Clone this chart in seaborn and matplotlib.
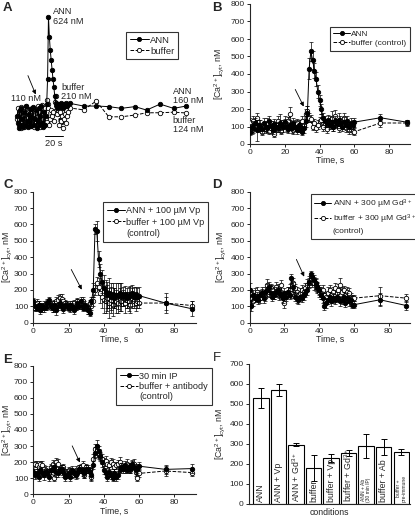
import matplotlib
matplotlib.use("Agg")
import matplotlib.pyplot as plt
from matplotlib.lines import Line2D
import seaborn as sns

# ---- data ----
T = list(range(0, 61)) + [75, 90]

B_ANN = [70, 100, 90, 120, 80, 110, 95, 85, 120, 100,
         90, 130, 105, 80, 115, 100, 90, 120, 110, 95,
         125, 100, 85, 110, 90, 120, 100, 80, 110, 95,
         70, 90, 130, 180, 430, 530, 480, 420, 370, 300,
         250, 200, 150, 130, 120, 135, 110, 125, 100, 130,
         115, 140, 120, 100, 125, 110, 130, 100, 120, 110,
         125, 150, 125]
B_ANN_ERR = [20, 30, 25, 30, 60, 25, 20, 20, 30, 25,
             20, 30, 25, 20, 30, 25, 20, 50, 30, 25,
             35, 25, 20, 30, 25, 30, 25, 20, 30, 25,
             20, 25, 30, 40, 60, 55, 50, 45, 40, 35,
             30, 30, 25, 30, 25, 30, 25, 30, 25, 30,
             25, 35, 30, 25, 30, 25, 30, 25, 30, 25,
             25, 20, 15]
B_BUF = [125, 80, 130, 100, 150, 90, 110, 70, 100, 85,
         120, 75, 90, 110, 60, 95, 130, 100, 75, 110,
         120, 90, 130, 170, 100, 80, 110, 120, 90, 100,
         130, 110, 170, 190, 150, 145, 100, 120, 90, 110,
         130, 140, 100, 120, 85, 110, 130, 150, 100, 160,
         120, 90, 130, 110, 150, 90, 120, 80, 100, 75,
         70, 120, 120]
B_BUF_ERR = [25, 20, 30, 20, 30, 20, 25, 20, 25, 20,
             30, 20, 25, 20, 20, 25, 30, 20, 20, 25,
             25, 20, 25, 40, 20, 20, 25, 25, 20, 25,
             30, 25, 30, 30, 25, 20, 20, 25, 20, 25,
             25, 30, 25, 25, 20, 25, 30, 40, 25, 35,
             25, 20, 30, 25, 30, 20, 25, 20, 25, 20,
             20, 20, 15]

C_ANN = [130, 100, 90, 110, 80, 100, 90, 95, 120, 140,
         100, 90, 110, 80, 100, 120, 95, 85, 110, 100,
         90, 110, 100, 80, 95, 120, 105, 130, 90, 110,
         100, 80, 60, 130, 200, 570, 560, 390, 300, 250,
         210, 190, 170, 180, 160, 175, 150, 170, 165, 180,
         170, 160, 175, 150, 170, 165, 180, 160, 175, 160,
         165, 120, 85]
C_ANN_ERR = [20, 25, 20, 20, 25, 20, 25, 20, 25, 20,
             20, 25, 20, 30, 20, 25, 20, 25, 20, 25,
             20, 25, 20, 25, 20, 25, 20, 25, 20, 25,
             20, 25, 20, 25, 40, 30, 60, 50, 60, 70,
             80, 70, 80, 90, 80, 70, 60, 70, 80, 60,
             70, 60, 50, 60, 50, 60, 50, 60, 40, 50,
             50, 60, 45]
C_BUF = [100, 90, 120, 110, 100, 90, 110, 100, 120, 105,
         110, 90, 120, 130, 140, 150, 145, 130, 120, 110,
         100, 90, 110, 120, 100, 130, 110, 120, 130, 100,
         90, 80, 120, 100, 130, 200, 240, 220, 180, 160,
         140, 130, 150, 120, 140, 110, 150, 130, 120, 140,
         130, 150, 120, 140, 130, 110, 150, 130, 120, 130,
         120, 120, 105]
C_BUF_ERR = [20, 20, 25, 20, 20, 25, 20, 25, 20, 20,
             20, 25, 20, 25, 30, 25, 30, 20, 20, 25,
             20, 25, 20, 20, 25, 20, 25, 20, 25, 20,
             20, 25, 20, 25, 30, 30, 40, 50, 60, 70,
             80, 70, 80, 90, 80, 70, 60, 70, 60, 70,
             60, 50, 60, 50, 60, 50, 60, 40, 50, 40,
             30, 40, 30]

D_ANN = [200, 100, 170, 150, 160, 140, 170, 180, 150, 190,
         200, 220, 180, 160, 170, 190, 200, 180, 170, 150,
         180, 160, 190, 170, 270, 220, 160, 150, 140, 160,
         150, 170, 180, 200, 250, 295, 280, 260, 240, 220,
         200, 170, 150, 100, 120, 140, 160, 130, 150, 140,
         160, 150, 130, 140, 160, 120, 150, 130, 140, 110,
         110, 140, 105]
D_ANN_ERR = [40, 30, 30, 25, 30, 25, 30, 25, 30, 30,
             35, 30, 25, 30, 25, 30, 35, 30, 25, 30,
             30, 25, 30, 25, 30, 30, 25, 30, 25, 30,
             25, 30, 25, 30, 35, 20, 25, 30, 35, 30,
             30, 25, 30, 25, 30, 25, 30, 25, 30, 25,
             30, 25, 30, 25, 30, 25, 30, 25, 25, 20,
             20, 40, 30]
D_BUF = [180, 150, 130, 170, 190, 160, 150, 180, 170, 160,
         230, 190, 210, 200, 180, 220, 190, 170, 230, 150,
         120, 170, 190, 200, 180, 240, 210, 190, 170, 180,
         200, 190, 210, 230, 240, 260, 250, 240, 230, 210,
         190, 180, 200, 170, 160, 180, 200, 170, 190, 210,
         180, 200, 230, 190, 200, 170, 190, 180, 160, 150,
         150, 165, 150]
D_BUF_ERR = [30, 25, 30, 40, 30, 25, 30, 35, 30, 25,
             35, 30, 25, 30, 35, 30, 25, 30, 30, 25,
             30, 25, 30, 35, 30, 30, 25, 30, 25, 30,
             30, 25, 30, 35, 30, 30, 35, 40, 35, 30,
             30, 35, 30, 25, 30, 35, 30, 25, 30, 35,
             30, 35, 40, 30, 25, 30, 25, 30, 20, 20,
             20, 55, 25]

E_ANN = [140, 120, 130, 110, 150, 130, 120, 140, 130, 110,
         150, 160, 170, 140, 130, 150, 160, 140, 110, 120,
         130, 110, 150, 140, 120, 130, 160, 150, 140, 130,
         160, 150, 140, 120, 180, 260, 300, 270, 240, 200,
         150, 130, 110, 140, 120, 100, 130, 110, 120, 150,
         170, 160, 180, 150, 170, 160, 190, 170, 150, 160,
         175, 155, 160]
E_ANN_ERR = [20, 25, 30, 25, 20, 25, 30, 20, 25, 30,
             25, 20, 25, 30, 25, 20, 25, 30, 25, 20,
             25, 30, 25, 20, 25, 30, 25, 20, 25, 30,
             25, 20, 25, 30, 25, 35, 40, 30, 25, 30,
             25, 20, 25, 30, 25, 20, 25, 30, 25, 20,
             25, 30, 25, 20, 25, 30, 25, 20, 25, 30,
             25, 30, 30]
E_BUF = [140, 190, 180, 170, 190, 180, 160, 150, 140, 130,
         170, 190, 100, 200, 190, 160, 150, 170, 140, 130,
         150, 140, 120, 130, 150, 140, 160, 170, 180, 120,
         170, 160, 150, 110, 220, 280, 270, 250, 230, 220,
         200, 210, 190, 180, 200, 190, 170, 180, 190, 200,
         180, 170, 160, 190, 170, 150, 180, 190, 140, 100,
         130, 145, 135]
E_BUF_ERR = [20, 20, 25, 20, 20, 25, 20, 25, 20, 20,
             20, 25, 20, 25, 30, 25, 30, 20, 20, 25,
             20, 25, 20, 20, 25, 20, 25, 20, 25, 20,
             20, 25, 20, 25, 30, 30, 35, 30, 25, 30,
             25, 30, 25, 20, 25, 30, 25, 20, 25, 30,
             25, 20, 25, 30, 25, 20, 25, 30, 25, 20,
             25, 30, 20]

# panel A: separate recording, own time base (no axes drawn)
A_T = list(range(0, 58)) + [59, 74, 88, 102, 116, 131, 144, 159, 174, 188]
A_ANN = [110, 70, 45, 140, 60, 150, 90, 50, 130, 60,
         160, 80, 50, 120, 70, 145, 55, 100, 155, 60,
         90, 140, 45, 80, 150, 60, 110, 160, 70, 50,
         130, 60, 110, 170, 300, 624, 520, 450, 400, 350,
         300, 260, 210, 175, 160, 150, 170, 165, 155, 175,
         160, 150, 170, 165, 160, 175, 160, 170,
         174, 160, 160, 157, 148, 157, 139, 170, 148, 160]
A_BUF = [90, 150, 60, 125, 45, 155, 80, 135, 50, 115,
         160, 60, 100, 140, 55, 125, 70, 150, 90, 50,
         145, 105, 60, 160, 80, 130, 50, 115, 165, 90,
         60, 150, 100, 190, 170, 150, 60, 90, 140, 110,
         130, 80, 180, 210, 160, 120, 140, 60, 130, 80,
         110, 45, 90, 120, 70, 140, 110, 130,
         150, 140, 186, 104, 104, 113, 125, 125, 128, 124]

F_LABELS = ["ANN", "ANN + Vp", "ANN + Gd$^{3+}$", "buffer", "buffer + Vp",
            "buffer + Gd$^{3+}$", "ANN + Ab\n(30 min IP)", "buffer + Ab",
            "buffer +\npre-immune"]
F_VALUES = [530, 570, 297, 180, 230, 255, 288, 285, 262]
F_ERR = [50, 30, 8, 65, 22, 15, 60, 38, 15]
F_SMALL = [False, False, False, False, False, False, True, False, True]

# ---- style ----
sns.set_theme(style="ticks")
plt.rcParams["font.family"] = ["Liberation Sans", "DejaVu Sans"]
plt.rcParams["mathtext.default"] = "regular"
plt.rcParams["axes.linewidth"] = 0.8

FS_TICK = 6
FS_LAB = 6.3

W, H = 415, 523
fig = plt.figure(figsize=(W / 100, H / 100), dpi=100)

YLABEL = "[Ca$^{2+}$]$_{cyt}$, nM"


def px_axes(left, top, right, bottom):
    return fig.add_axes([left / W, 1 - bottom / H, (right - left) / W, (bottom - top) / H])


def trace(ax, t, y, err, filled, zorder):
    if err is not None:
        ax.errorbar(t, y, yerr=err, fmt="none", ecolor="black", elinewidth=0.5,
                    capsize=1.3, capthick=0.5, zorder=zorder - 1)
    sns.lineplot(x=t, y=y, ax=ax, color="black", linewidth=0.7,
                 linestyle="-" if filled else "--", marker="o", markersize=3.2,
                 markerfacecolor="black" if filled else "white",
                 markeredgecolor="black", markeredgewidth=0.6, zorder=zorder)


def add_legend(ax, labels, anchor, fs, spacing, extra=None):
    h1 = Line2D([], [], color="black", lw=0.7, marker="o", ms=3, mfc="black", mec="black", mew=0.6)
    h2 = Line2D([], [], color="black", lw=0.7, ls="--", marker="o", ms=3, mfc="white", mec="black", mew=0.6)
    handles, labs = [h1, h2], list(labels)
    if extra:
        handles.append(Line2D([], [], color="none"))
        labs.append(extra)
    leg = ax.legend(handles, labs, loc="upper left", bbox_to_anchor=anchor, fontsize=fs,
                    frameon=True, fancybox=False, edgecolor="black", handlelength=2.0,
                    handletextpad=0.15, borderpad=0.4, labelspacing=spacing, borderaxespad=0)
    leg.get_frame().set_linewidth(0.8)
    leg.set_zorder(10)


def style_time_axes(ax, ylab_x):
    ax.set_xlim(0, 92)
    ax.set_ylim(0, 800)
    ax.set_xticks([0, 20, 40, 60, 80])
    ax.set_yticks(range(0, 900, 100))
    ax.tick_params(labelsize=FS_TICK, length=2.5, width=0.7, pad=1.2)
    ax.set_xlabel("Time, s", fontsize=FS_LAB, labelpad=0)
    ax.set_ylabel(YLABEL, fontsize=FS_LAB)
    ax.yaxis.set_label_coords(ylab_x, 0.5)
    sns.despine(ax=ax)


def arrow(ax, start, end):
    ax.annotate("", xy=end, xytext=start,
                arrowprops=dict(arrowstyle="-|>", lw=0.6, color="black", mutation_scale=6))


# ---- panel A ----
axA = px_axes(5, 0, 205, 150)
trace(axA, A_T, A_BUF, None, False, 2)
trace(axA, A_T, A_ANN, None, True, 3)
axA.set_xlim(-13.3, 208.9)
axA.set_ylim(-69, 712.5)
axA.axis("off")
add_legend(axA, ["ANN", "buffer"], (0.605, 0.787), 6.8, 0.2)
kw = dict(fontsize=6.6, ha="left", linespacing=1.1)
axA.text(40, 676, "ANN\n624 nM", va="top", **kw)
axA.text(-6.7, 200, "110 nM", va="center", **kw)
axA.text(49, 233, "buffer\n210 nM", va="center", **kw)
axA.text(173, 212, "ANN\n160 nM", va="center", **kw)
axA.text(173, 61, "buffer\n124 nM", va="center", **kw)
arrow(axA, (11, 332), (22, 207))
SCALE_S = 20
axA.plot([31, 31 + SCALE_S], [4, 4], color="black", lw=0.7)
axA.text(31 + SCALE_S / 2, -10, f"{SCALE_S} s", fontsize=6.6, ha="center", va="top")

# ---- panel B ----
axB = px_axes(250, 4, 410, 144)
trace(axB, T, B_BUF, B_BUF_ERR, False, 3)
trace(axB, T, B_ANN, B_ANN_ERR, True, 5)
style_time_axes(axB, -0.15)
add_legend(axB, ["ANN", "buffer (control)"], (0.50, 0.836), 6.0, 0.15)
arrow(axB, (25.3, 326), (31.6, 200))

# ---- panel C ----
axC = px_axes(33.3, 191.7, 195.5, 322.7)
trace(axC, T, C_BUF, C_BUF_ERR, False, 3)
trace(axC, T, C_ANN, C_ANN_ERR, True, 5)
style_time_axes(axC, -0.116)
add_legend(axC, ["ANN + 100 µM Vp", "buffer + 100 µM Vp"], (0.43, 0.92), 6.6, 0.3,
           extra="(control)")
arrow(axC, (20.8, 340), (28.2, 187))

# ---- panel D ----
axD = px_axes(249.7, 191.7, 409.6, 322.7)
trace(axD, T, D_BUF, D_BUF_ERR, False, 3)
trace(axD, T, D_ANN, D_ANN_ERR, True, 5)
style_time_axes(axD, -0.133)
add_legend(axD, ["ANN + 300 µM Gd$^{3+}$", "buffer + 300 µM Gd$^{3+}$"], (0.383, 0.982),
           6.1, 0.2, extra="(control)")
arrow(axD, (26.2, 402), (32, 266))

# ---- panel E ----
axE = px_axes(33.3, 365.7, 195.5, 494.3)
trace(axE, T, E_BUF, E_BUF_ERR, False, 3)
trace(axE, T, E_ANN, E_ANN_ERR, True, 5)
style_time_axes(axE, -0.116)
add_legend(axE, ["30 min IP", "buffer + antibody"], (0.51, 0.982), 6.6, 0.15,
           extra="(control)")
arrow(axE, (21.4, 317), (27.1, 182))

# ---- panel F ----
axF = px_axes(248.7, 364, 410, 504)
sns.barplot(x=F_LABELS, y=F_VALUES, color="white", edgecolor="black", linewidth=0.8,
            width=0.88, ax=axF, saturation=1)
axF.errorbar(range(len(F_VALUES)), F_VALUES, yerr=F_ERR, fmt="none", ecolor="black",
             elinewidth=0.7, capsize=2, capthick=0.7)
for i, (lab, small) in enumerate(zip(F_LABELS, F_SMALL)):
    axF.text(i, 12, lab, rotation=90, ha="center", va="bottom",
             fontsize=3.6 if small else FS_LAB, linespacing=1.0)
axF.set_xlim(-0.7, 8.5)
axF.set_ylim(0, 700)
axF.set_yticks(range(0, 800, 100))
axF.set_xticks([])
axF.tick_params(labelsize=FS_TICK, length=2.5, width=0.7, pad=1.2)
axF.set_xlabel("conditions", fontsize=FS_LAB, labelpad=3)
axF.set_ylabel(YLABEL, fontsize=FS_LAB)
axF.yaxis.set_label_coords(-0.132, 0.5)
sns.despine(ax=axF)

# ---- panel letters ----
for lab, x, y, wt in [("A", 3, 2, "bold"), ("B", 212, 2, "bold"), ("C", 3, 179, "bold"),
                      ("D", 212, 179, "bold"), ("E", 3, 354, "bold"), ("F", 213, 352, "normal")]:
    fig.text(x / W, 1 - y / H, lab, fontsize=9.5, fontweight=wt, va="top", ha="left")

fig.savefig("out.png", dpi=100)
